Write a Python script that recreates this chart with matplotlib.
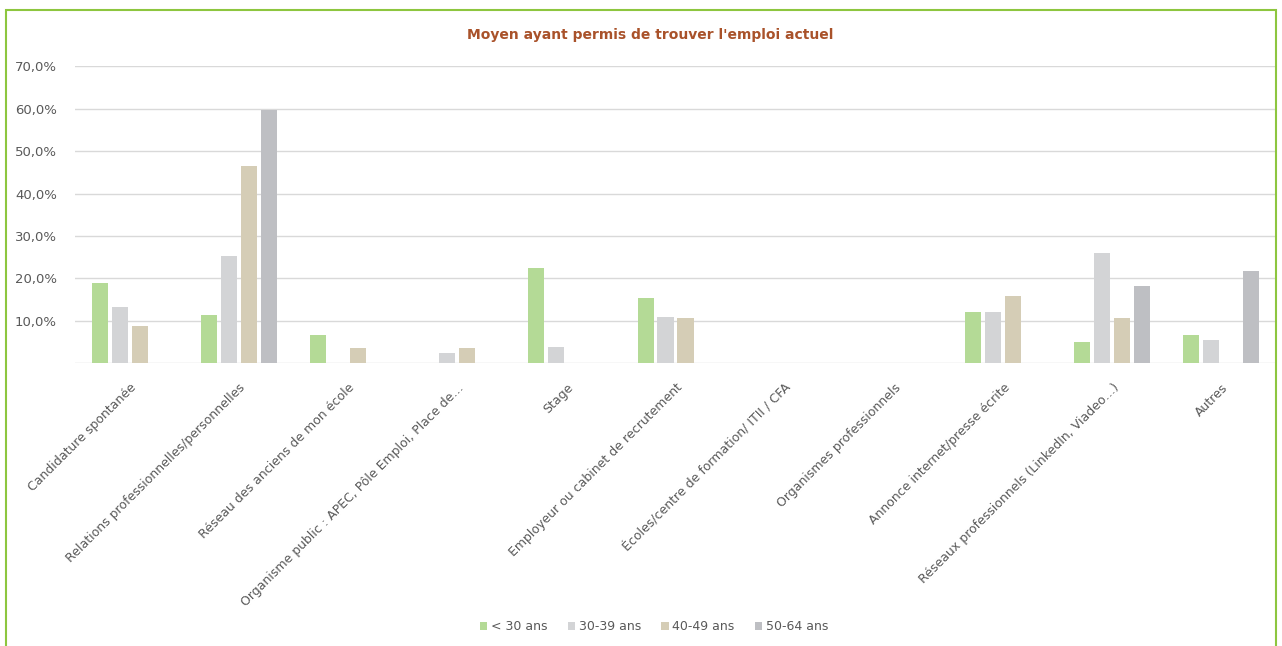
import matplotlib.pyplot as plt
import matplotlib.patches as mpatches
import numpy as np

plt.rcParams['font.family'] = ['DejaVu Sans']

categories = ["Candidature spontanée",
              "Relations professionnelles/personnelles",
              "Réseau des anciens de mon école",
              "Organisme public : APEC, Pôle Emploi, Place de…",
              "Stage",
              "Employeur ou cabinet de recrutement",
              "Écoles/centre de formation/ ITII / CFA",
              "Organismes professionnels",
              "Annonce internet/presse écrite",
              "Réseaux professionnels (LinkedIn, Viadeo…)",
              "Autres"]
series_names = ["< 30 ans", "30-39 ans", "40-49 ans", "50-64 ans"]
moins_30 = [18.9, 11.5, 6.7, 0, 22.5, 15.5, 0, 0, 12.2, 5.0, 6.7]
ans_30_39 = [13.3, 25.2, 0, 2.5, 3.8, 10.8, 0, 0, 12.1, 25.9, 5.5]
ans_40_49 = [8.8, 46.5, 3.6, 3.6, 0, 10.7, 0, 0, 15.9, 10.7, 0]
ans_50_64 = [0, 59.6, 0, 0, 0, 0, 0, 0, 0, 18.3, 21.8]
yticks = [10, 20, 30, 40, 50, 60, 70]

colors = ['#B4DA96', '#D3D4D6', '#D5CDB6', '#BEBFC3']

fig = plt.figure(figsize=(12.82, 6.46), dpi=100)
ax = fig.add_axes([75/1282, 1-363.3/646, 1201/1282, 297/646])

# cadre vert autour du graphique
fig.patches.append(mpatches.Rectangle((6/1282, -0.05), 1270/1282, 1.05-10/646,
                                      transform=fig.transFigure, fill=False,
                                      edgecolor='#8DC63F', linewidth=1.5))

x = np.arange(len(categories))
step = 0.183
width = 0.147
for i, (vals, name) in enumerate(zip([moins_30, ans_30_39, ans_40_49, ans_50_64], series_names)):
    ax.bar(x + (i-1.5)*step, np.array(vals)/100, width, color=colors[i], label=name, zorder=3)

ax.set_xlim(-0.5, len(categories)-0.5)
ax.set_ylim(0, 0.7)
ax.set_yticks(np.array(yticks)/100)
ax.set_yticklabels([f"{v:.1f}%".replace('.', ',') for v in yticks], fontsize=9.5, color='#595959')
ax.grid(axis='y', color='#D9D9D9', linewidth=1, zorder=0)
ax.axhline(0, color='#D9D9D9', linewidth=1, zorder=2)
for s in ax.spines.values():
    s.set_visible(False)
ax.tick_params(length=0, pad=13)

ax.set_xticks(x)
ax.set_xticklabels(categories, rotation=45, ha='right', rotation_mode='anchor',
                   fontsize=9, color='#595959')
ax.tick_params(axis='x', pad=13)

fig.text(650/1282, 1-35/646, "Moyen ayant permis de trouver l'emploi actuel",
         ha='center', va='center', fontsize=10, fontweight='bold', color='#A9522A')

ax.legend(loc='center', bbox_to_anchor=(654/1282, 1-627/646), bbox_transform=fig.transFigure,
          ncol=4, frameon=False, fontsize=9, handlelength=0.6, handleheight=0.6,
          handletextpad=0.3, columnspacing=1.6, labelcolor='#595959')

fig.savefig("out.png", dpi=100)
